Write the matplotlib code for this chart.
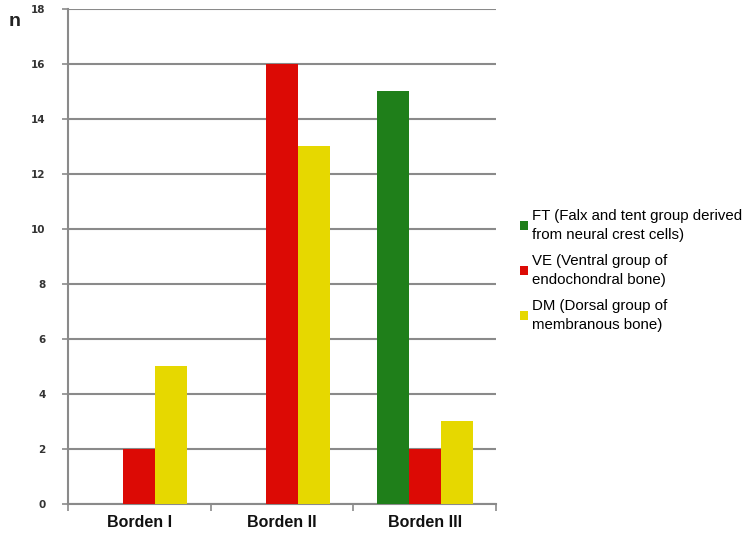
import matplotlib
matplotlib.use('Agg')
import matplotlib.pyplot as plt
import numpy as np

categories = ['Borden I', 'Borden II', 'Borden III']
ft_values = [0, 0, 15]
ve_values = [2, 16, 2]
dm_values = [5, 13, 3]
series_labels = ['FT (Falx and tent group derived\nfrom neural crest cells)',
                 'VE (Ventral group of\nendochondral bone)',
                 'DM (Dorsal group of\nmembranous bone)']
colors = ['#1f7f1a', '#dc0a05', '#e6d800']

plt.rcParams['font.family'] = ['Liberation Sans', 'DejaVu Sans']

fig = plt.figure(figsize=(7.44, 5.34), dpi=100)
ax = fig.add_axes([0.0914, 0.0562, 0.5753, 0.927])

x = np.arange(len(categories))
w = 0.224
handles = []
for i, (vals, col) in enumerate(zip([ft_values, ve_values, dm_values], colors)):
    b = ax.bar(x + (i - 1) * w, vals, w, color=col, zorder=3)
    handles.append(b)

ax.set_xlim(-0.5, 2.5)
ax.set_ylim(0, 18)
ax.set_yticks(np.arange(0, 19, 2))
ax.yaxis.grid(True, color='#8a8a8a', linewidth=1.5, zorder=0)
ax.set_axisbelow(True)

ax.set_xticks(x)
ax.set_xticklabels(categories, fontsize=11.5, fontweight='bold', color='#111111')
ax.tick_params(axis='x', length=0, pad=8)
ax.set_xticks(np.arange(-0.5, 3, 1), minor=True)
ax.tick_params(axis='x', which='minor', length=5, color='#8a8a8a', width=1.2)
ax.tick_params(axis='y', length=4, color='#8a8a8a', width=1.2, pad=12,
               labelsize=7.5, labelcolor='#333333')
for lab in ax.get_yticklabels():
    lab.set_fontweight('bold')
    lab.set_family('DejaVu Sans')

for s in ['top', 'right']:
    ax.spines[s].set_visible(False)
for s in ['left', 'bottom']:
    ax.spines[s].set_color('#8a8a8a')
    ax.spines[s].set_linewidth(1.5)

fig.text(0.011, 0.96, 'n', fontsize=14, color='#222222', fontweight='bold',
         va='center')

leg = fig.legend(handles, series_labels, loc='center left', bbox_to_anchor=(0.681, 0.494),
                 frameon=False, fontsize=10.8, handlelength=0.5, handleheight=0.5,
                 handletextpad=0.3, labelspacing=0.8)
for t in leg.get_texts():
    t.set_linespacing(1.45)

fig.savefig('out.png', dpi=100)
